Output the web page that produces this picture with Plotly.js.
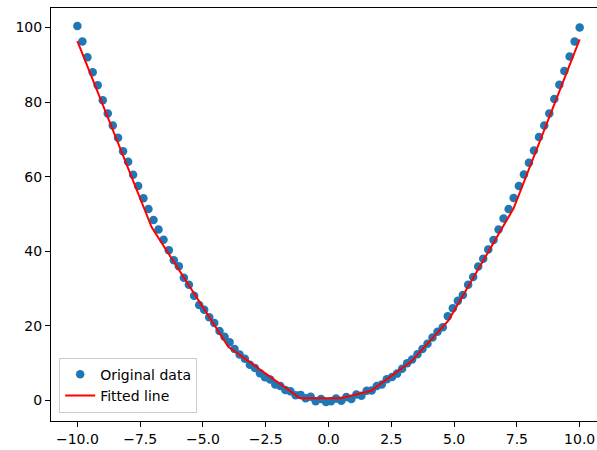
<!DOCTYPE html>
<html>
<head>
<meta charset="utf-8">
<script src="https://cdn.plot.ly/plotly-3.0.1.min.js"></script>
<style>html,body{margin:0;padding:0;background:#fff;}#chart{width:597px;height:450px;}</style>
</head>
<body>
<div id="chart"></div>
<script>
// Original data
const dataX = [-10.00,-9.80,-9.60,-9.39,-9.19,-8.99,-8.79,-8.59,-8.38,-8.18,
  -7.98,-7.78,-7.58,-7.37,-7.17,-6.97,-6.77,-6.57,-6.36,-6.16,
  -5.96,-5.76,-5.56,-5.35,-5.15,-4.95,-4.75,-4.55,-4.34,-4.14,
  -3.94,-3.74,-3.54,-3.33,-3.13,-2.93,-2.73,-2.53,-2.32,-2.12,
  -1.92,-1.72,-1.52,-1.31,-1.11,-0.91,-0.71,-0.51,-0.30,-0.10,
  0.10,0.30,0.51,0.71,0.91,1.11,1.31,1.52,1.72,1.92,
  2.12,2.32,2.53,2.73,2.93,3.13,3.33,3.54,3.74,3.94,
  4.14,4.34,4.55,4.75,4.95,5.15,5.35,5.56,5.76,5.96,
  6.16,6.36,6.57,6.77,6.97,7.17,7.37,7.58,7.78,7.98,
  8.18,8.38,8.59,8.79,8.99,9.19,9.39,9.60,9.80,10.00];
const dataY = [100.4,96.2,92.0,88.0,84.5,80.5,76.9,73.7,70.4,66.8,
  64.0,60.5,57.5,54.2,51.3,48.4,45.8,43.1,40.3,37.6,
  36.0,32.9,31.0,28.1,25.6,24.3,22.3,20.8,18.6,17.1,
  15.6,13.8,12.3,11.2,9.6,8.7,7.3,6.2,5.6,4.3,
  3.9,2.8,2.5,1.4,1.5,0.6,1.0,-0.2,0.4,-0.4,
  -0.2,0.5,-0.1,0.9,0.4,1.6,1.3,2.6,2.7,3.9,
  4.3,5.7,6.3,7.2,8.5,10.0,11.0,12.4,13.8,15.2,
  16.9,18.4,19.6,22.6,24.7,26.7,28.3,31.0,33.1,35.9,
  38.0,40.5,43.0,45.8,48.8,51.3,54.3,57.5,60.6,63.7,
  67.0,70.6,73.7,76.9,80.8,84.6,88.3,92.2,96.2,100.0];
// Fitted line (piecewise linear)
const fitX = [-10, -7.04, -3.99, -1.13, 0.49, 1.70, 3.30, 4.77, 7.37, 10];
const fitY = [96.3, 46.4, 14.4, 0.6, 0.6, 2.6, 10.5, 21.4, 51.5, 96.8];
const xTickVals = [-10, -7.5, -5, -2.5, 0, 2.5, 5, 7.5, 10];
const xTickText = ['\u221210.0','\u22127.5','\u22125.0','\u22122.5','0.0','2.5','5.0','7.5','10.0'];
const yTickVals = [0, 20, 40, 60, 80, 100];
const yTickText = ['0','20','40','60','80','100'];

const font = {family: 'DejaVu Sans, sans-serif', size: 14, color: '#000'};
const traces = [
  {x: dataX, y: dataY, type: 'scatter', mode: 'markers', name: 'Original data',
   marker: {color: '#1f77b4', size: 8.5}},
  {x: fitX, y: fitY, type: 'scatter', mode: 'lines', name: 'Fitted line',
   line: {color: '#ff0000', width: 2}}
];
const layout = {
  width: 597, height: 450,
  margin: {l: 51, r: 0, t: 8, b: 29, pad: 0},
  paper_bgcolor: '#fff', plot_bgcolor: '#fff',
  font: font,
  showlegend: true,
  legend: {x: 0.015, y: 0.02, xanchor: 'left', yanchor: 'bottom',
    bgcolor: 'rgba(255,255,255,0.8)', bordercolor: '#cccccc', borderwidth: 1,
    font: font, tracegroupgap: 0, itemwidth: 30},
  xaxis: {range: [-11.05, 10.69], showgrid: false, zeroline: false,
    showline: true, mirror: true, linecolor: '#000', linewidth: 1,
    ticks: 'outside', ticklen: 5, tickwidth: 1, tickcolor: '#000',
    tickmode: 'array', tickvals: xTickVals, ticktext: xTickText, tickfont: font},
  yaxis: {range: [-5.5, 105.2], showgrid: false, zeroline: false,
    showline: true, mirror: false, linecolor: '#000', linewidth: 1,
    ticks: 'outside', ticklen: 5, tickwidth: 1, tickcolor: '#000',
    tickmode: 'array', tickvals: yTickVals, ticktext: yTickText, tickfont: font}
};
Plotly.newPlot('chart', traces, layout, {displayModeBar: false, staticPlot: true});
</script>
</body>
</html>
